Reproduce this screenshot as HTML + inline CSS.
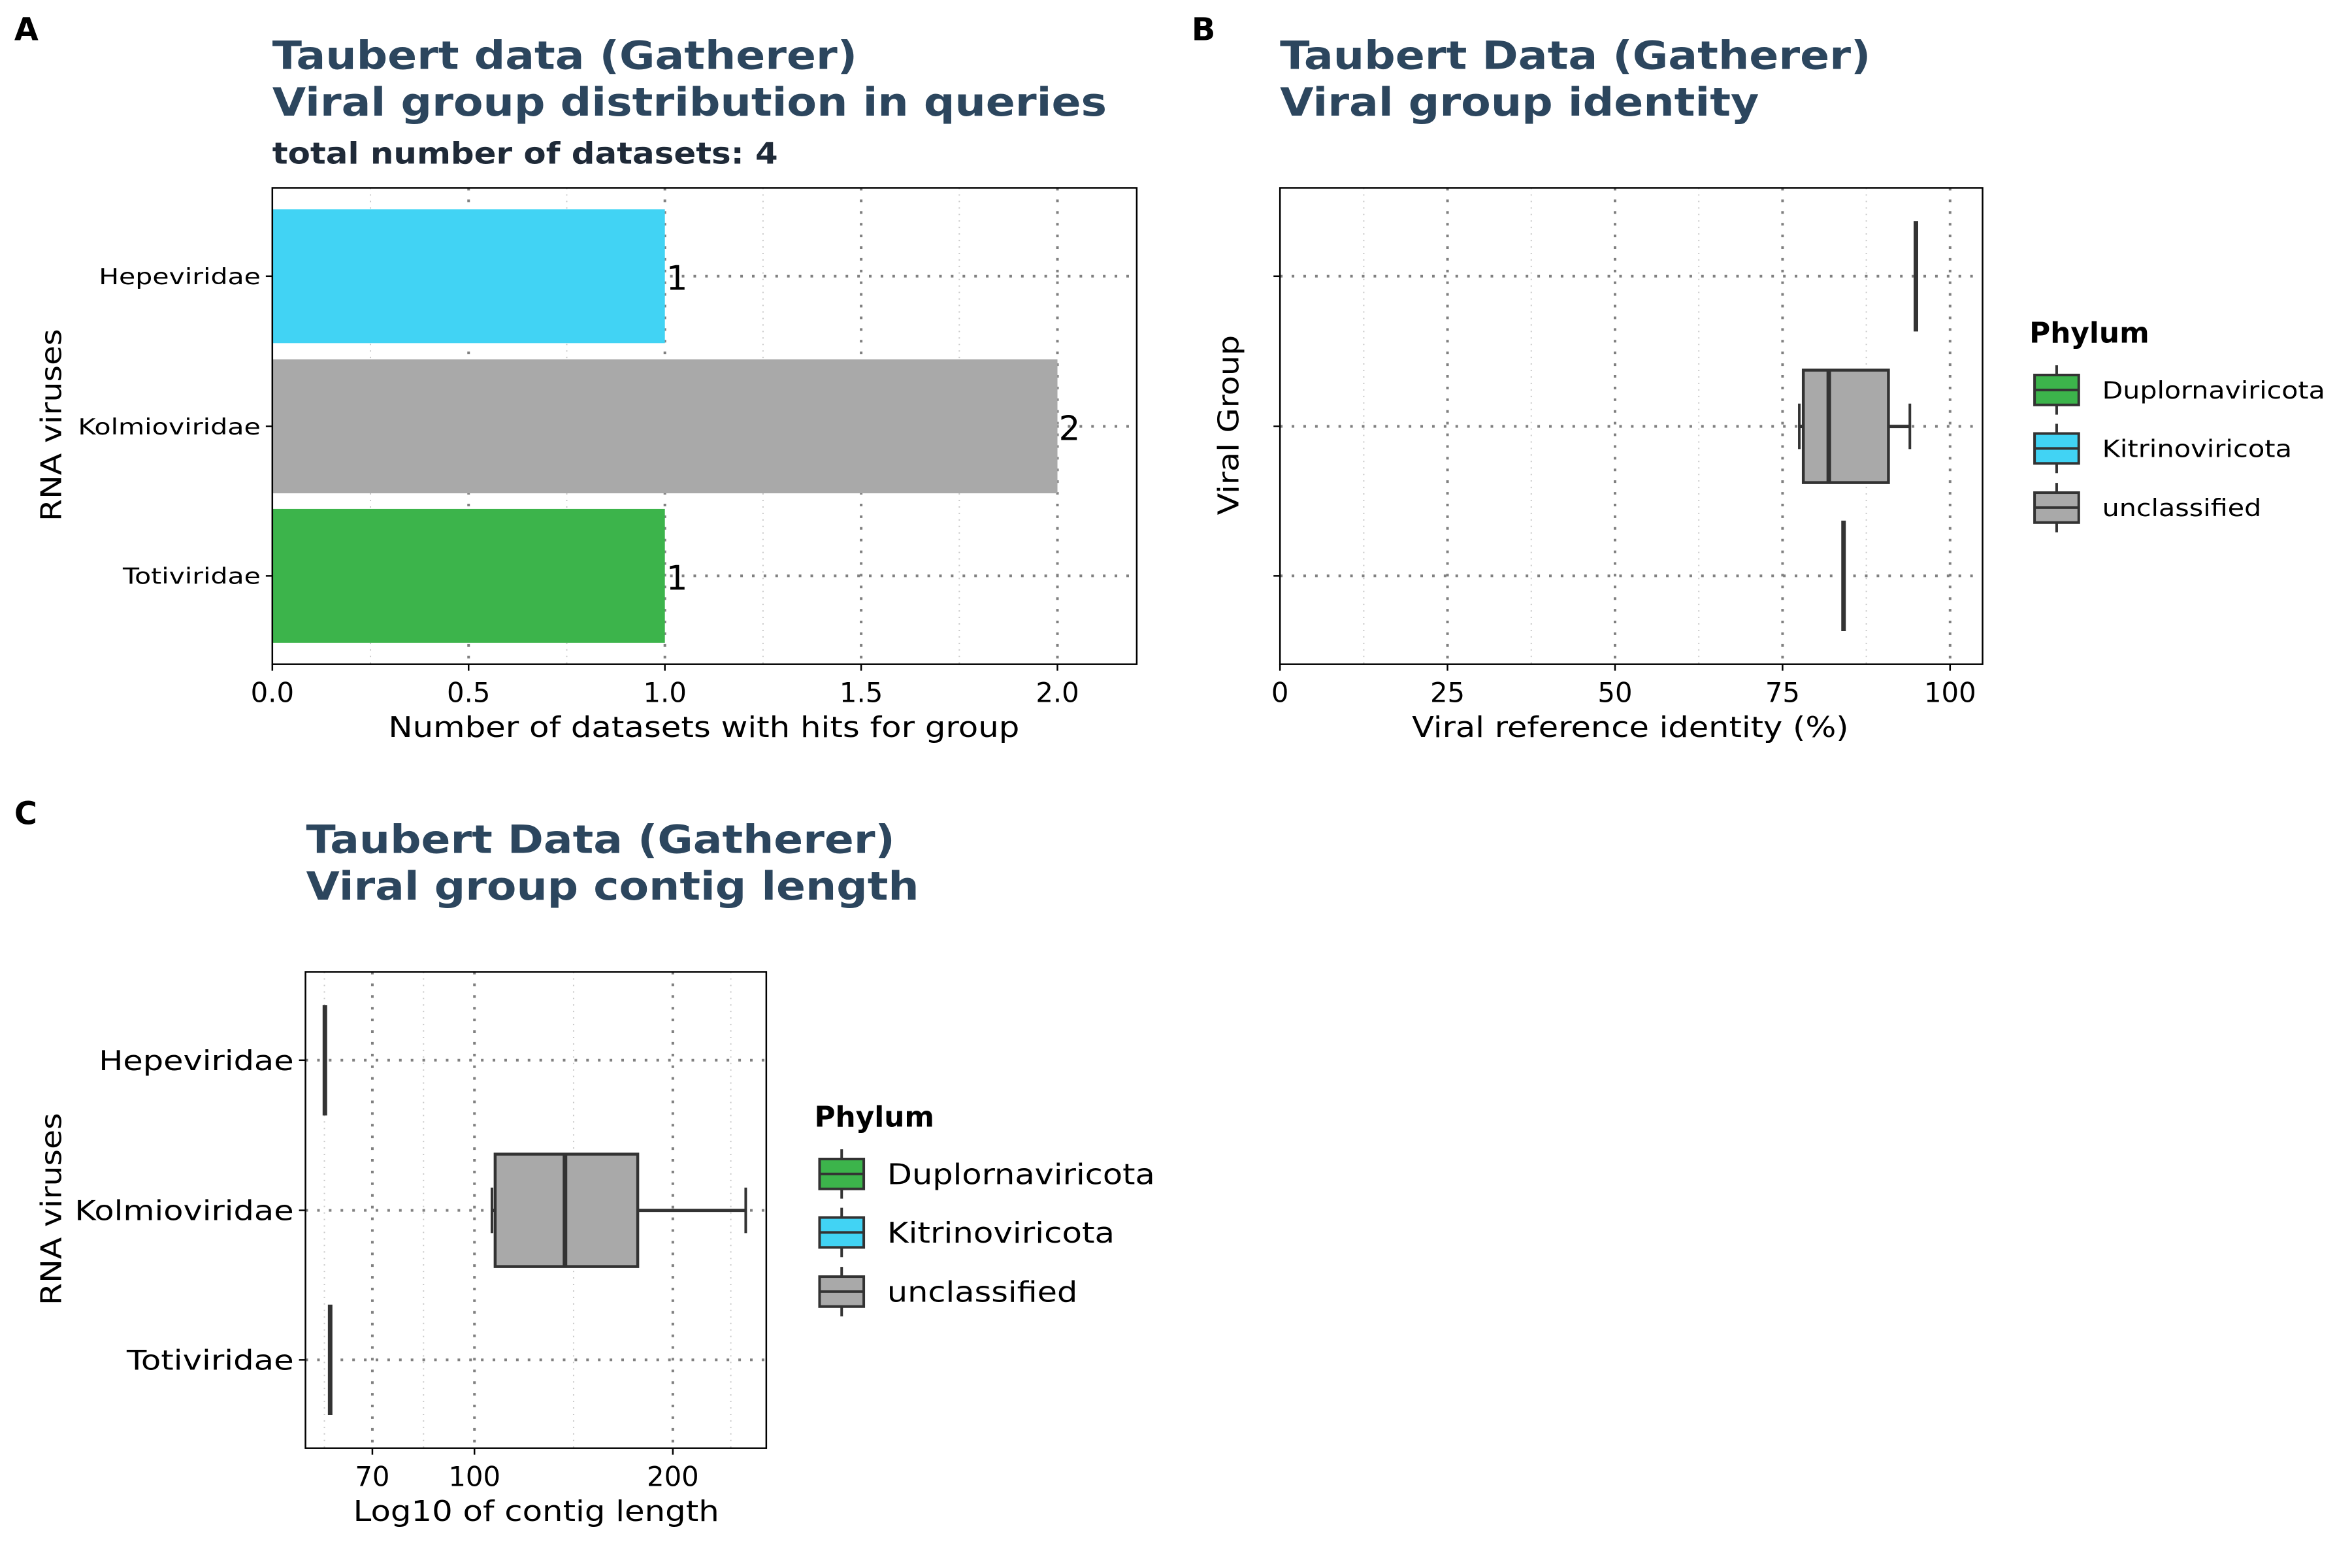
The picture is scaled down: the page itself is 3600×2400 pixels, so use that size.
<!DOCTYPE html>
<html><head><meta charset="utf-8"><style>
html,body{margin:0;padding:0;background:#fff;}
svg{display:block;font-family:"DejaVu Sans","Liberation Sans",sans-serif;}
</style></head><body>
<svg id="fig" width="3600" height="2400" viewBox="0 0 3600 2400" xmlns="http://www.w3.org/2000/svg">
<rect x="0" y="0" width="3600" height="2400" fill="#fff"/>
<g transform="scale(0.9948)">
<text x="22" y="62" font-size="48" font-weight="bold">A</text>
<g fill="#2c465e" font-weight="bold" font-size="60">
<text x="419" y="106" textLength="900" lengthAdjust="spacingAndGlyphs">Taubert data (Gatherer)</text>
<text x="419" y="178" textLength="1284" lengthAdjust="spacingAndGlyphs">Viral group distribution in queries</text>
</g>
<text x="419" y="252" fill="#1f2a38" font-weight="bold" font-size="46" textLength="778" lengthAdjust="spacingAndGlyphs">total number of datasets: 4</text>
<g id="A"></g>
</g>
<g transform="translate(1800,0) scale(0.9948) translate(-1800,0)">
<text x="1824" y="62" font-size="48" font-weight="bold">B</text>
<g fill="#2c465e" font-weight="bold" font-size="60">
<text x="1960" y="106" textLength="909" lengthAdjust="spacingAndGlyphs">Taubert Data (Gatherer)</text>
<text x="1960" y="178" textLength="737" lengthAdjust="spacingAndGlyphs">Viral group identity</text>
</g>
<g id="B"></g>
</g>
<g transform="translate(0,1200) scale(0.9948) translate(0,-1200)">
<text x="22" y="1262" font-size="48" font-weight="bold">C</text>
<g fill="#2c465e" font-weight="bold" font-size="60">
<text x="471" y="1306" textLength="906" lengthAdjust="spacingAndGlyphs">Taubert Data (Gatherer)</text>
<text x="471" y="1378" textLength="943" lengthAdjust="spacingAndGlyphs">Viral group contig length</text>
</g>
<g id="C"></g>
</g>
</svg>
<script>
// ---- Data ----
const categories = ["Hepeviridae","Kolmioviridae","Totiviridae"];
const barValues = [1,2,1];
const barColors = ["#41d3f4","#a9a9a9","#3cb44b"];
const aTicks = [0,0.5,1.0,1.5,2.0];
const aTickLabels = ["0.0","0.5","1.0","1.5","2.0"];
const aMinorTicks = [0.25,0.75,1.25,1.75];
// identity boxplots: [whiskerLow, q1, median, q3, whiskerHigh]
const identityStats = [[94.9,94.9,94.9,94.9,94.9],[77.5,78.1,81.9,90.8,94.0],[84.1,84.1,84.1,84.1,84.1]];
const bTicks = [0,25,50,75,100];
const bTickLabels = ["0","25","50","75","100"];
const bMinorTicks = [12.5,37.5,62.5,87.5];
// contig length boxplots
const lengthStats = [[59.3,59.3,59.3,59.3,59.3],[106.3,107.5,137.2,176.9,258],[60.4,60.4,60.4,60.4,60.4]];
const cTicks = [70,100,200];
const cTickLabels = ["70","100","200"];
const cMinorTicks = [59.2,83.7,141.4,244.9];
const phyla = ["Duplornaviricota","Kitrinoviricota","unclassified"];
const phylaColors = ["#3cb44b","#41d3f4","#a9a9a9"];

const NS="http://www.w3.org/2000/svg";
function mk(parent,tag,attrs,text){const e=document.createElementNS(NS,tag);for(const k in attrs)e.setAttribute(k,attrs[k]);if(text!==undefined)e.textContent=text;parent.appendChild(e);return e;}

function grid(g,xs,ticks,minor,x0,x1,y0,y1,cy){
  minor.forEach(v=>{const x=xs(v);if(x>x0&&x<x1){const l=mk(g,'line',{x1:x,x2:x,y1:y0,y2:y1,stroke:'#c8c8c8','stroke-width':2,'stroke-dasharray':'2,8'});
  
  }});
  ticks.forEach(v=>{const x=xs(v);const l=mk(g,'line',{x1:x,x2:x,y1:y0,y2:y1,stroke:'#808080','stroke-width':4,'stroke-dasharray':'4,14'});
  
  });
  cy.forEach(y=>{const l=mk(g,'line',{x1:x0,x2:x1,y1:y,y2:y,stroke:'#808080','stroke-width':4,'stroke-dasharray':'4,14'});
  
  });
}
function frame(g,x0,x1,y0,y1){const r=mk(g,'rect',{x:x0,y:y0,width:x1-x0,height:y1-y0,fill:'none',stroke:'#000','stroke-width':2.5});
  
  }
function xAxis(g,xs,ticks,labels,y1,fs){
  ticks.forEach((v,i)=>{const x=xs(v);mk(g,'line',{x1:x,x2:x,y1:y1,y2:y1+10,stroke:'#000','stroke-width':2.5});
  const t=mk(g,'text',{x:x,y:y1+58,'font-size':fs,'text-anchor':'middle'},labels[i]);
  
  });
}
function yTicks(g,x0,cy,labels,fs,lens){
  cy.forEach((y,i)=>{mk(g,'line',{x1:x0-10,x2:x0,y1:y,y2:y,stroke:'#000','stroke-width':2.5});
  if(labels){const t=mk(g,'text',{x:x0-18,y:y+fs*0.36,'font-size':fs,'text-anchor':'end',textLength:lens[i],lengthAdjust:'spacingAndGlyphs'},labels[i]);
  
  }});
}
function axisTitles(g,xt,xc,xy,xlen,yt,yx,yc,ylen){
  const a=mk(g,'text',{x:xc,y:xy,'font-size':44,'text-anchor':'middle',textLength:xlen,lengthAdjust:'spacingAndGlyphs'},xt);
  
  
  const b=mk(g,'text',{x:0,y:0,'font-size':44,'text-anchor':'middle',transform:`translate(${yx},${yc}) rotate(-90)`,textLength:ylen,lengthAdjust:'spacingAndGlyphs'},yt);
  
  
}
function boxes(g,xs,stats,cy,bh,ch,lh){
  stats.forEach((s,i)=>{const y=cy[i];
    if(s[0]===s[4]){const l=mk(g,'line',{x1:xs(s[2]),x2:xs(s[2]),y1:y-lh/2,y2:y+lh/2,stroke:'#333','stroke-width':7});
      
      return;}
    mk(g,'line',{x1:xs(s[0]),x2:xs(s[1]),y1:y,y2:y,stroke:'#333','stroke-width':5});
    mk(g,'line',{x1:xs(s[3]),x2:xs(s[4]),y1:y,y2:y,stroke:'#333','stroke-width':5});
    mk(g,'line',{x1:xs(s[0]),x2:xs(s[0]),y1:y-ch/2,y2:y+ch/2,stroke:'#333','stroke-width':4});
    mk(g,'line',{x1:xs(s[4]),x2:xs(s[4]),y1:y-ch/2,y2:y+ch/2,stroke:'#333','stroke-width':4});
    const r=mk(g,'rect',{x:xs(s[1]),y:y-bh/2,width:xs(s[3])-xs(s[1]),height:bh,fill:'#a9a9a9',stroke:'#333','stroke-width':4.5});
    
    
    mk(g,'line',{x1:xs(s[2]),x2:xs(s[2]),y1:y-bh/2,y2:y+bh/2,stroke:'#333','stroke-width':7});
  });
}
function legend(g,x,ty,ys,fs,tfs,lens){
  const t=mk(g,'text',{x:x-8,y:ty,'font-size':tfs,'font-weight':'bold'},'Phylum');
  
  
  phyla.forEach((p,i)=>{const y=ys[i];const e=mk(g,'g',{});
    
    
    mk(e,'line',{x1:x+34,x2:x+34,y1:y-38,y2:y+38,stroke:'#333','stroke-width':4});
    mk(e,'rect',{x:x,y:y-23,width:68,height:46,fill:phylaColors[i],stroke:'#333','stroke-width':4});
    mk(e,'line',{x1:x,x2:x+68,y1:y,y2:y,stroke:'#333','stroke-width':4});
    mk(e,'text',{x:x+104,y:y+fs*0.36,'font-size':fs,textLength:lens[i],lengthAdjust:'spacingAndGlyphs'},p);
  });
}

const catY=[425,656,886];
// Panel A
(function(){const g=document.getElementById('A');const x0=419,x1=1749,y0=289,y1=1022;
  const xs=v=>x0+v*604;
  grid(g,xs,aTicks.slice(1),aMinorTicks,x0,x1,y0,y1,catY);
  barValues.forEach((v,i)=>{const r=mk(g,'rect',{x:x0,y:catY[i]-103,width:xs(v)-x0,height:206,fill:barColors[i]});
    
    
    const t=mk(g,'text',{x:xs(v)+2,y:catY[i]+21,'font-size':52},String(v));
    
    });
  frame(g,x0,x1,y0,y1);
  xAxis(g,xs,aTicks,aTickLabels,y1,42);
  yTicks(g,x0,catY,categories,34,[249,281,212]);
  axisTitles(g,'Number of datasets with hits for group',1083,1134,971,'RNA viruses',94,654,296);
})();
// Panel B
(function(){const g=document.getElementById('B');const x0=1960,x1=3041,y0=289,y1=1022;
  const xs=v=>x0+v*10.31;
  grid(g,xs,bTicks.slice(1),bMinorTicks,x0,x1,y0,y1,catY);
  boxes(g,xs,identityStats,catY,173,70,170);
  frame(g,x0,x1,y0,y1);
  xAxis(g,xs,bTicks,bTickLabels,y1,42);
  yTicks(g,x0,catY,null,34,null);
  axisTitles(g,'Viral reference identity (%)',2499,1134,672,'Viral Group',1896,654,277);
  legend(g,3121,527,[600,690,781],37,44,[343,292,245]);
})();
// Panel C
(function(){const g=document.getElementById('C');const x0=470,x1=1179,y0=1489,y1=2222;
  const xs=v=>730+1014*Math.log10(v/100);const cy=[1625,1856,2086];
  grid(g,xs,cTicks,cMinorTicks,x0,x1,y0,y1,cy);
  boxes(g,xs,lengthStats,cy,173,70,170);
  frame(g,x0,x1,y0,y1);
  xAxis(g,xs,cTicks,cTickLabels,y1,42);
  yTicks(g,x0,cy,categories,42,[300,337,257]);
  axisTitles(g,'Log10 of contig length',825,2334,563,'RNA viruses',94,1854,296);
  legend(g,1261,1727,[1800,1890,1981],44,44,[412,350,293]);
})();
</script>
</body></html>
